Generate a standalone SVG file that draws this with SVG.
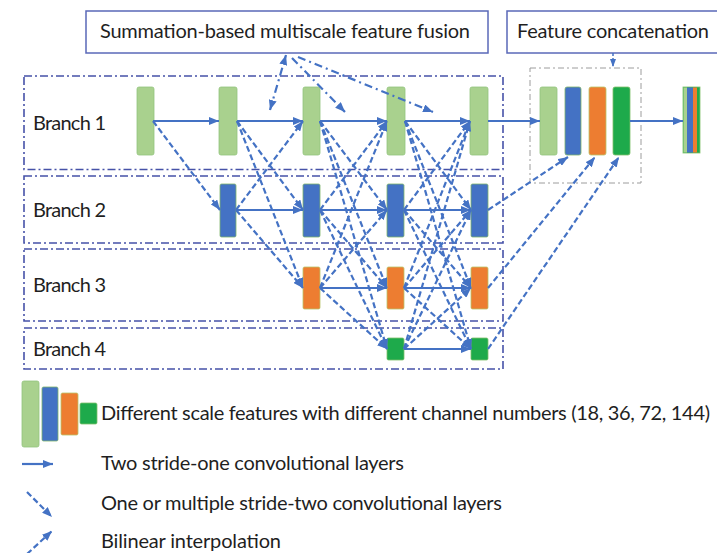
<svg xmlns="http://www.w3.org/2000/svg" width="717" height="553" viewBox="0 0 717 553">
  <defs>
    <marker id="ah" viewBox="0 0 10 8" refX="10" refY="4" markerWidth="10" markerHeight="8" markerUnits="userSpaceOnUse" orient="auto-start-reverse">
      <path d="M0,0 L10,4 L0,8 z" fill="#4472c4"/>
    </marker>
    <marker id="ahs" viewBox="0 0 8 6" refX="8" refY="3" markerWidth="8" markerHeight="6" markerUnits="userSpaceOnUse" orient="auto">
      <path d="M0,0 L8,3 L0,6 z" fill="#4472c4"/>
    </marker>
    <style>
      .txt { font-family: Lato, "Open Sans", "Liberation Sans", sans-serif; font-size: 20px; fill: #1f1f1f; }
      .title { fill: #ffffff; stroke: #5a68b8; stroke-width: 1.5; }
      .branch { fill: none; stroke: #4652a8; stroke-width: 1.6; stroke-dasharray: 8 3 2 3; }
      .cat { fill: none; stroke: #9c9c9c; stroke-width: 1; stroke-dasharray: 6 3 2 3; }
      .solid { stroke: #4472c4; stroke-width: 2.2; fill: none; marker-end: url(#ah); }
      .dash { stroke: #4472c4; stroke-width: 2.2; fill: none; stroke-dasharray: 6 3; marker-end: url(#ah); }
      .dd { stroke: #4472c4; stroke-width: 2.2; fill: none; stroke-dasharray: 8 4 2 4; marker-end: url(#ah); }
      .g1 { fill: #a9d18e; stroke: #93c47d; stroke-width: 0.8; }
      .b2 { fill: #4472c4; stroke: #7fb46a; stroke-width: 0.8; }
      .o3 { fill: #ed7d31; stroke: #b9c46a; stroke-width: 0.8; }
      .g4 { fill: #1eaa4b; stroke: #7fc06a; stroke-width: 0.8; }
    </style>
  </defs>

  <rect width="717" height="553" fill="#ffffff"/>

  <!-- caption boxes -->
  <g id="fusion-title">
    <rect class="title" x="86" y="11" width="402" height="42"/>
    <text class="txt" x="100" y="38" textLength="370" lengthAdjust="spacing">Summation-based multiscale feature fusion</text>
  </g>
  <g id="concat-title">
    <rect class="title" x="507" y="11" width="212" height="42"/>
    <text class="txt" x="517" y="38" textLength="192" lengthAdjust="spacing">Feature concatenation</text>
  </g>

  <!-- branch frames -->
  <g id="branch1">
    <rect class="branch" x="24" y="76" width="479" height="93.5"/>
    <text class="txt" x="33" y="130" textLength="73" lengthAdjust="spacing">Branch 1</text>
  </g>
  <g id="branch2">
    <rect class="branch" x="24" y="176" width="479" height="67"/>
    <text class="txt" x="33" y="217" textLength="73" lengthAdjust="spacing">Branch 2</text>
  </g>
  <g id="branch3">
    <rect class="branch" x="24" y="249" width="479" height="72"/>
    <text class="txt" x="33" y="292" textLength="73" lengthAdjust="spacing">Branch 3</text>
  </g>
  <g id="branch4">
    <rect class="branch" x="24" y="328" width="479" height="41"/>
    <text class="txt" x="33" y="356" textLength="73" lengthAdjust="spacing">Branch 4</text>
  </g>

  <!-- concatenation frame -->
  <g id="concat-frame">
    <rect class="cat" x="530" y="68" width="111" height="115"/>
  </g>

  <!-- feature maps -->
  <g id="b1-c1"><rect class="g1" x="137" y="87" width="17" height="68" rx="2"/></g>
  <g id="b1-c2"><rect class="g1" x="219" y="87" width="18" height="68" rx="2"/></g>
  <g id="b1-c3"><rect class="g1" x="303" y="87" width="17" height="68" rx="2"/></g>
  <g id="b1-c4"><rect class="g1" x="387" y="87" width="18" height="68" rx="2"/></g>
  <g id="b1-c5"><rect class="g1" x="470" y="87" width="18" height="68" rx="2"/></g>

  <g id="b2-c2"><rect class="b2" x="220" y="184" width="16" height="53" rx="1.5"/></g>
  <g id="b2-c3"><rect class="b2" x="303" y="184" width="17" height="53" rx="1.5"/></g>
  <g id="b2-c4"><rect class="b2" x="387" y="184" width="17" height="53" rx="1.5"/></g>
  <g id="b2-c5"><rect class="b2" x="471" y="184" width="17" height="53" rx="1.5"/></g>

  <g id="b3-c3"><rect class="o3" x="303" y="267" width="17" height="42" rx="1.5"/></g>
  <g id="b3-c4"><rect class="o3" x="387" y="267" width="17" height="42" rx="1.5"/></g>
  <g id="b3-c5"><rect class="o3" x="471" y="267" width="17" height="42" rx="1.5"/></g>

  <g id="b4-c4"><rect class="g4" x="387" y="338" width="17" height="22" rx="1.5"/></g>
  <g id="b4-c5"><rect class="g4" x="471" y="338" width="17" height="22" rx="1.5"/></g>

  <g id="cat-1"><rect class="g1" x="540" y="87" width="17" height="68" rx="2"/></g>
  <g id="cat-2"><rect class="b2" x="565" y="87" width="16" height="68" rx="2"/></g>
  <g id="cat-3"><rect class="o3" x="589" y="87" width="17" height="68" rx="2"/></g>
  <g id="cat-4"><rect class="g4" x="613" y="87" width="17" height="68" rx="2"/></g>

  <g id="fused">
    <rect x="683" y="87" width="17" height="66" fill="#1eaa4b" stroke="#7fc06a" stroke-width="0.8"/>
    <rect x="683.5" y="87.5" width="3.5" height="65" fill="#a9d18e"/>
    <rect x="687" y="87.5" width="6" height="65" fill="#4472c4"/>
    <rect x="693" y="87.5" width="4" height="65" fill="#ed7d31"/>
  </g>

  <!-- connectors -->
  <g id="connectors">
    <!-- same-resolution paths -->
    <line class="solid" x1="153" y1="121" x2="219" y2="121"/>
    <line class="solid" x1="237" y1="121" x2="303" y2="121"/>
    <line class="solid" x1="320" y1="121" x2="387" y2="121"/>
    <line class="solid" x1="405" y1="121" x2="470" y2="121"/>
    <line class="solid" x1="488" y1="121" x2="540" y2="121"/>
    <line class="solid" x1="630" y1="121" x2="683" y2="121"/>
    <line class="solid" x1="236" y1="210" x2="303" y2="210"/>
    <line class="solid" x1="320" y1="210" x2="387" y2="210"/>
    <line class="solid" x1="404" y1="210" x2="471" y2="210"/>
    <line class="solid" x1="320" y1="288" x2="387" y2="288"/>
    <line class="solid" x1="404" y1="288" x2="471" y2="288"/>
    <line class="solid" x1="404" y1="349" x2="471" y2="349"/>

    <!-- stage 1 to 2 -->
    <line class="dash" x1="153" y1="121" x2="220" y2="210"/>

    <!-- stage 2 to 3 -->
    <line class="dash" x1="237" y1="121" x2="303" y2="210"/>
    <line class="dash" x1="237" y1="121" x2="303" y2="288"/>
    <line class="dash" x1="236" y1="210" x2="303" y2="288"/>
    <line class="dash" x1="236" y1="210" x2="303" y2="121"/>

    <!-- stage 3 to 4 -->
    <line class="dash" x1="320" y1="121" x2="387" y2="210"/>
    <line class="dash" x1="320" y1="121" x2="387" y2="288"/>
    <line class="dash" x1="320" y1="121" x2="387" y2="349"/>
    <line class="dash" x1="320" y1="210" x2="387" y2="288"/>
    <line class="dash" x1="320" y1="210" x2="387" y2="349"/>
    <line class="dash" x1="320" y1="288" x2="387" y2="349"/>
    <line class="dash" x1="320" y1="210" x2="387" y2="121"/>
    <line class="dash" x1="320" y1="288" x2="387" y2="121"/>
    <line class="dash" x1="320" y1="288" x2="387" y2="210"/>

    <!-- stage 4 to 5 -->
    <line class="dash" x1="405" y1="121" x2="471" y2="210"/>
    <line class="dash" x1="405" y1="121" x2="471" y2="288"/>
    <line class="dash" x1="405" y1="121" x2="471" y2="349"/>
    <line class="dash" x1="404" y1="210" x2="471" y2="288"/>
    <line class="dash" x1="404" y1="210" x2="471" y2="349"/>
    <line class="dash" x1="404" y1="288" x2="471" y2="349"/>
    <line class="dash" x1="404" y1="210" x2="470" y2="121"/>
    <line class="dash" x1="404" y1="288" x2="470" y2="121"/>
    <line class="dash" x1="404" y1="349" x2="470" y2="121"/>
    <line class="dash" x1="404" y1="288" x2="471" y2="210"/>
    <line class="dash" x1="404" y1="349" x2="471" y2="210"/>
    <line class="dash" x1="404" y1="349" x2="471" y2="288"/>

    <!-- into the concatenation -->
    <line class="dash" x1="488" y1="210" x2="568" y2="157"/>
    <line class="dash" x1="488" y1="288" x2="595" y2="157"/>
    <line class="dash" x1="488" y1="349" x2="619" y2="157"/>

    <!-- caption pointers -->
    <line class="dd" x1="270" y1="110" x2="286" y2="55" style="marker-start: url(#ah)"/>
    <line class="dd" x1="292" y1="58" x2="345" y2="112"/>
    <line class="dd" x1="298" y1="57" x2="433" y2="112"/>
    <line stroke="#4472c4" stroke-width="1.5" stroke-dasharray="3 2" x1="613" y1="53" x2="613" y2="67" marker-end="url(#ahs)"/>
  </g>

  <!-- legend -->
  <g id="legend-scales">
    <rect class="g1" x="22" y="381" width="17" height="66" rx="2"/>
    <rect class="b2" x="42" y="387" width="16" height="54" rx="1.5"/>
    <rect class="o3" x="61" y="393" width="17" height="42" rx="1.5"/>
    <rect class="g4" x="80" y="403" width="17" height="21" rx="1.5"/>
    <text class="txt" x="101" y="420" textLength="609" lengthAdjust="spacing">Different scale features with different channel numbers (18, 36, 72, 144)</text>
  </g>
  <g id="legend-stride-one">
    <line class="solid" x1="22" y1="464" x2="53" y2="464"/>
    <text class="txt" x="101" y="470" textLength="303" lengthAdjust="spacing">Two stride-one convolutional layers</text>
  </g>
  <g id="legend-stride-two">
    <line class="dash" x1="27" y1="492" x2="52" y2="517"/>
    <text class="txt" x="101" y="510" textLength="401" lengthAdjust="spacing">One or multiple stride-two convolutional layers</text>
  </g>
  <g id="legend-bilinear">
    <line class="dash" x1="27" y1="554" x2="52" y2="531"/>
    <text class="txt" x="101" y="548" textLength="180" lengthAdjust="spacing">Bilinear interpolation</text>
  </g>
</svg>
